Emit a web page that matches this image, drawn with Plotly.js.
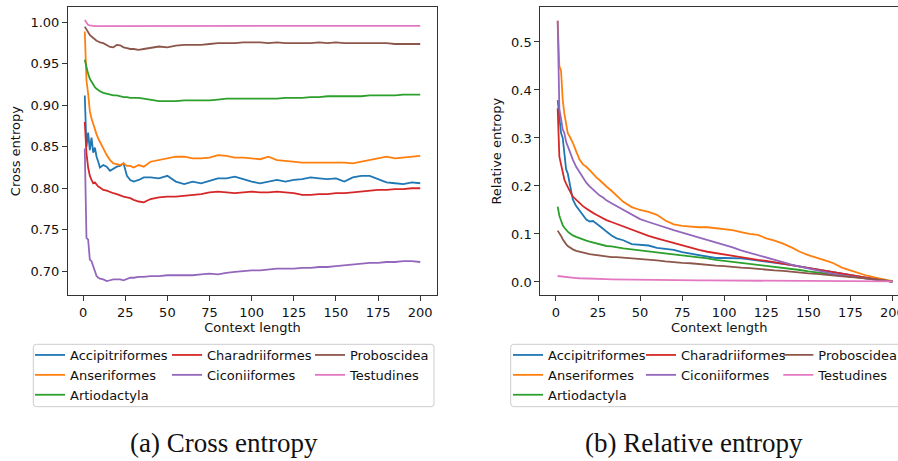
<!DOCTYPE html>
<html><head><meta charset="utf-8">
<script src="https://cdn.plot.ly/plotly-3.0.1.min.js"></script>
<style>html,body{margin:0;padding:0;background:#fff;}#chart{width:898px;height:461px;}</style>
</head><body><div id="chart"></div>
<script>
// ---------------- data ----------------
const contextLength = [1,2,3,4,5,6,7,8,9,10,12,14,16,18,20,22,24,26,28,30,33,36,40,45,50,55,60,65,70,75,80,85,90,95,100,105,110,115,120,125,130,135,140,145,150,155,160,165,170,175,180,185,190,195,200];

const speciesNames = ['Accipitriformes','Anseriformes','Artiodactyla','Charadriiformes','Ciconiiformes','Proboscidea','Testudines'];
const speciesColors = ['#1f77b4','#ff7f0e','#2ca02c','#d62728','#9467bd','#8c564b','#e377c2'];
const legendColumn = [1,1,1,2,2,3,3];

const xTickVals = [0,25,50,75,100,125,150,175,200];
const ceTickVals = [0.70,0.75,0.80,0.85,0.90,0.95,1.00];
const reTickVals = [0.0,0.1,0.2,0.3,0.4,0.5];

// (a) Cross entropy
const ceAccipitriformes = [0.912,0.850,0.867,0.846,0.861,0.843,0.849,0.838,0.832,0.825,0.828,0.826,0.821,0.824,0.826,0.827,0.830,0.815,0.810,0.808,0.810,0.813,0.813,0.812,0.815,0.808,0.805,0.808,0.806,0.809,0.812,0.812,0.814,0.811,0.808,0.806,0.808,0.810,0.808,0.810,0.811,0.813,0.812,0.811,0.812,0.808,0.813,0.815,0.815,0.811,0.807,0.806,0.805,0.807,0.806];
const ceAnseriformes = [0.989,0.930,0.914,0.893,0.884,0.877,0.870,0.865,0.860,0.856,0.848,0.840,0.834,0.830,0.829,0.828,0.830,0.827,0.827,0.825,0.828,0.826,0.832,0.834,0.836,0.838,0.838,0.836,0.836,0.837,0.840,0.839,0.837,0.837,0.836,0.835,0.838,0.834,0.833,0.832,0.831,0.831,0.831,0.831,0.831,0.831,0.830,0.832,0.834,0.836,0.838,0.836,0.837,0.838,0.839];
const ceArtiodactyla = [0.955,0.945,0.938,0.932,0.928,0.925,0.922,0.920,0.918,0.917,0.915,0.914,0.913,0.912,0.912,0.911,0.910,0.910,0.909,0.909,0.909,0.908,0.907,0.905,0.905,0.905,0.906,0.906,0.906,0.906,0.907,0.908,0.908,0.908,0.908,0.908,0.908,0.908,0.909,0.909,0.909,0.910,0.910,0.911,0.911,0.911,0.911,0.911,0.912,0.912,0.912,0.912,0.913,0.913,0.913];
const ceCharadriiformes = [0.880,0.842,0.825,0.815,0.810,0.806,0.807,0.804,0.802,0.801,0.798,0.797,0.795,0.794,0.793,0.791,0.790,0.789,0.788,0.786,0.784,0.783,0.787,0.789,0.790,0.790,0.791,0.792,0.793,0.795,0.796,0.795,0.794,0.795,0.796,0.795,0.795,0.796,0.795,0.794,0.792,0.792,0.793,0.793,0.794,0.794,0.795,0.796,0.797,0.798,0.798,0.799,0.799,0.800,0.800];
const ceCiconiiformes = [0.848,0.740,0.738,0.714,0.712,0.706,0.700,0.694,0.692,0.691,0.690,0.688,0.689,0.690,0.690,0.690,0.689,0.691,0.692,0.692,0.693,0.693,0.694,0.694,0.695,0.695,0.695,0.695,0.696,0.697,0.696,0.698,0.699,0.700,0.701,0.701,0.702,0.703,0.703,0.703,0.704,0.704,0.705,0.705,0.706,0.707,0.708,0.709,0.710,0.710,0.711,0.711,0.712,0.712,0.711];
const ceProboscidea = [0.995,0.991,0.988,0.985,0.983,0.981,0.979,0.978,0.977,0.976,0.975,0.973,0.9705,0.970,0.973,0.9725,0.970,0.969,0.968,0.968,0.967,0.968,0.969,0.971,0.970,0.972,0.973,0.973,0.973,0.974,0.975,0.975,0.975,0.976,0.976,0.976,0.975,0.976,0.975,0.975,0.975,0.975,0.976,0.975,0.976,0.975,0.975,0.975,0.975,0.975,0.975,0.974,0.974,0.974,0.974];
const ceTestudines = [1.003,0.999,0.997,0.9965,0.996,0.9958,0.9957,0.9956,0.9956,0.9955,0.9955,0.9955,0.9955,0.9955,0.9955,0.9955,0.9955,0.9955,0.9955,0.9956,0.9956,0.9956,0.9956,0.9956,0.9956,0.9957,0.9957,0.9957,0.9958,0.9958,0.9958,0.9958,0.9959,0.9959,0.9959,0.9959,0.996,0.996,0.996,0.996,0.996,0.996,0.996,0.996,0.996,0.996,0.996,0.996,0.996,0.996,0.996,0.996,0.996,0.996,0.996];

// (b) Relative entropy
const reAccipitriformes = [0.379,0.350,0.310,0.300,0.262,0.235,0.226,0.205,0.186,0.172,0.158,0.148,0.139,0.130,0.126,0.127,0.122,0.117,0.111,0.105,0.097,0.091,0.087,0.079,0.077,0.076,0.071,0.069,0.067,0.062,0.059,0.055,0.052,0.050,0.050,0.050,0.049,0.047,0.045,0.043,0.040,0.038,0.035,0.032,0.029,0.026,0.023,0.020,0.017,0.014,0.011,0.008,0.005,0.003,0.001];
const reAnseriformes = [0.544,0.449,0.440,0.379,0.350,0.330,0.310,0.304,0.298,0.290,0.272,0.255,0.245,0.240,0.233,0.225,0.218,0.212,0.205,0.199,0.190,0.180,0.167,0.156,0.150,0.146,0.140,0.128,0.120,0.117,0.115,0.114,0.114,0.112,0.110,0.108,0.104,0.100,0.098,0.091,0.086,0.080,0.072,0.063,0.056,0.051,0.045,0.039,0.030,0.024,0.018,0.013,0.009,0.006,0.002];
const reArtiodactyla = [0.157,0.138,0.128,0.118,0.113,0.108,0.105,0.102,0.099,0.097,0.094,0.091,0.088,0.086,0.084,0.082,0.080,0.079,0.077,0.075,0.074,0.072,0.070,0.068,0.066,0.064,0.062,0.060,0.058,0.056,0.053,0.051,0.049,0.046,0.044,0.042,0.040,0.038,0.036,0.034,0.032,0.030,0.027,0.025,0.022,0.020,0.017,0.015,0.013,0.011,0.009,0.007,0.005,0.003,0.001];
const reCharadriiformes = [0.362,0.261,0.245,0.228,0.213,0.205,0.197,0.190,0.184,0.178,0.171,0.165,0.158,0.153,0.148,0.144,0.140,0.136,0.132,0.129,0.125,0.121,0.115,0.108,0.101,0.096,0.091,0.086,0.081,0.076,0.071,0.067,0.063,0.060,0.057,0.054,0.052,0.049,0.046,0.044,0.041,0.038,0.036,0.033,0.030,0.027,0.024,0.021,0.017,0.014,0.011,0.008,0.006,0.003,0.001];
const reCiconiiformes = [0.544,0.360,0.340,0.318,0.310,0.292,0.283,0.272,0.262,0.255,0.240,0.228,0.216,0.207,0.199,0.192,0.186,0.180,0.176,0.170,0.164,0.158,0.150,0.141,0.131,0.125,0.119,0.113,0.108,0.103,0.098,0.092,0.087,0.082,0.077,0.072,0.066,0.061,0.056,0.050,0.045,0.041,0.036,0.032,0.028,0.024,0.020,0.017,0.014,0.011,0.009,0.007,0.005,0.003,0.001];
const reProboscidea = [0.107,0.102,0.096,0.089,0.083,0.079,0.075,0.072,0.070,0.068,0.065,0.063,0.061,0.059,0.058,0.057,0.056,0.055,0.054,0.053,0.052,0.052,0.051,0.049,0.047,0.046,0.045,0.043,0.041,0.040,0.039,0.037,0.036,0.034,0.033,0.031,0.030,0.029,0.027,0.026,0.024,0.023,0.021,0.020,0.018,0.017,0.015,0.013,0.012,0.010,0.009,0.007,0.005,0.003,0.001];
const reTestudines = [0.0125,0.012,0.0115,0.011,0.0105,0.010,0.0097,0.0093,0.009,0.0087,0.0082,0.0078,0.0074,0.0071,0.0068,0.0066,0.0064,0.0062,0.006,0.0058,0.0056,0.0054,0.0051,0.0049,0.0046,0.0044,0.0042,0.004,0.0038,0.0036,0.0035,0.0034,0.0033,0.0032,0.0031,0.003,0.0029,0.0028,0.0027,0.0026,0.0025,0.0024,0.0023,0.0022,0.0021,0.002,0.0019,0.0018,0.0017,0.0016,0.0015,0.0014,0.0013,0.0012,0.0011];

const crossEntropy = [ceAccipitriformes,ceAnseriformes,ceArtiodactyla,ceCharadriiformes,ceCiconiiformes,ceProboscidea,ceTestudines];
const relativeEntropy = [reAccipitriformes,reAnseriformes,reArtiodactyla,reCharadriiformes,reCiconiiformes,reProboscidea,reTestudines];

// ---------------- layout helpers ----------------
const W = 898, H = 461;
const px = v => v / W;
const py = v => 1 - v / H;

// one legend per legend column: [left panel, right panel]
const leftLegendIds = {1: 'legend', 2: 'legend2', 3: 'legend3'};
const rightLegendIds = {1: 'legend4', 2: 'legend5', 3: 'legend6'};

const traces = [];
speciesNames.forEach((name, i) => {
  traces.push({
    x: contextLength, y: crossEntropy[i], type: 'scatter', mode: 'lines', name: name,
    line: {color: speciesColors[i], width: 1.8},
    xaxis: 'x', yaxis: 'y', legend: leftLegendIds[legendColumn[i]]
  });
});
speciesNames.forEach((name, i) => {
  traces.push({
    x: contextLength, y: relativeEntropy[i], type: 'scatter', mode: 'lines', name: name,
    line: {color: speciesColors[i], width: 1.8},
    xaxis: 'x2', yaxis: 'y2', legend: rightLegendIds[legendColumn[i]]
  });
});

const axisCommon = {
  showline: true, linecolor: '#333', linewidth: 1,
  ticks: 'outside', ticklen: 5, tickwidth: 1, tickcolor: '#333',
  showgrid: false, zeroline: false,
  tickfont: {family: 'DejaVu Sans', size: 13, color: '#111'}
};
const axisTitleFont = {family: 'DejaVu Sans', size: 13, color: '#111'};

function legendBox(x0, y0, x1, y1) {
  const rx = 3 / W, ry = 3 / H;
  const X0 = px(x0), X1 = px(x1), Y0 = py(y0), Y1 = py(y1);
  return {
    type: 'path', xref: 'paper', yref: 'paper', layer: 'above',
    path: `M${X0+rx},${Y0} L${X1-rx},${Y0} Q${X1},${Y0} ${X1},${Y0-ry} L${X1},${Y1+ry} Q${X1},${Y1} ${X1-rx},${Y1} L${X0+rx},${Y1} Q${X0},${Y1} ${X0},${Y1+ry} L${X0},${Y0-ry} Q${X0},${Y0} ${X0+rx},${Y0} Z`,
    line: {color: '#cccccc', width: 1}, fillcolor: '#ffffff'
  };
}

function legendAt(xLeft, entryWidth) {
  return {
    orientation: 'v', xanchor: 'left', yanchor: 'top', x: px(xLeft), y: py(340),
    entrywidthmode: 'pixels', entrywidth: entryWidth, itemwidth: 30,
    bgcolor: 'rgba(0,0,0,0)', borderwidth: 0,
    font: {family: 'DejaVu Sans', size: 13, color: '#111'}
  };
}

const layout = {
  width: W, height: H,
  margin: {l: 0, r: 0, t: 0, b: 0, autoexpand: false},
  paper_bgcolor: '#fff', plot_bgcolor: '#fff',
  font: {family: 'DejaVu Sans', size: 13, color: '#111'},
  showlegend: true,
  xaxis: Object.assign({}, axisCommon, {
    domain: [px(68), px(437)], range: [-8.95, 209.95], anchor: 'y', mirror: true,
    tickvals: xTickVals,
    title: {text: 'Context length', standoff: 3, font: axisTitleFont}
  }),
  yaxis: Object.assign({}, axisCommon, {
    domain: [py(295), py(7.3)], range: [0.6712, 1.0183], anchor: 'x', mirror: true,
    tickvals: ceTickVals, tickformat: '.2f',
    title: {text: 'Cross entropy', standoff: 6, font: axisTitleFont}
  }),
  xaxis2: Object.assign({}, axisCommon, {
    domain: [px(540.3), 1], range: [-9.33, (898 - 556) / 1.682], anchor: 'y2', mirror: true,
    tickvals: xTickVals, ticklabeloverflow: 'allow',
    title: {text: 'Context length', standoff: 3, font: axisTitleFont}
  }),
  yaxis2: Object.assign({}, axisCommon, {
    domain: [py(295), py(7.3)], range: [-0.0271, 0.5722], anchor: 'x2', mirror: false,
    tickvals: reTickVals, tickformat: '.1f',
    title: {text: 'Relative entropy', standoff: 6, font: axisTitleFont}
  }),
  legend:  legendAt(30, 110),
  legend2: legendAt(167, 112),
  legend3: legendAt(310, 85),
  legend4: legendAt(508, 110),
  legend5: legendAt(641, 112),
  legend6: legendAt(778.3, 74),
  shapes: [legendBox(33.3, 344.3, 434, 406.7), legendBox(510.7, 344.3, 905, 406.7)],
  annotations: [
    {text: '(a) Cross entropy', xref: 'paper', yref: 'paper', x: px(224), y: py(443),
     xanchor: 'center', yanchor: 'middle', showarrow: false,
     font: {family: 'Liberation Serif', size: 27, color: '#111'}},
    {text: '(b) Relative entropy', xref: 'paper', yref: 'paper', x: px(694), y: py(443),
     xanchor: 'center', yanchor: 'middle', showarrow: false,
     font: {family: 'Liberation Serif', size: 27, color: '#111'}}
  ]
};

Plotly.newPlot('chart', traces, layout, {displayModeBar: false, staticPlot: true});
</script>
</body></html>
